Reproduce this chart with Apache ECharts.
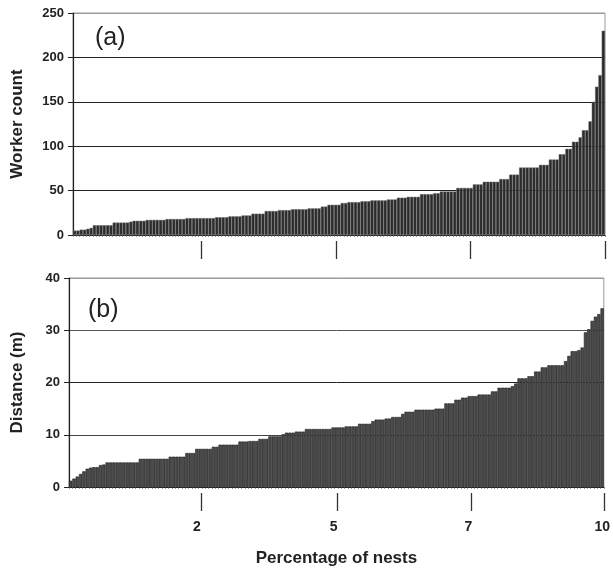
<!DOCTYPE html>
<html><head><meta charset="utf-8">
<script src="https://cdn.jsdelivr.net/npm/echarts@6/dist/echarts.min.js"></script>
<style>html,body{margin:0;padding:0;background:#fff}#c{width:613px;height:571px}</style>
</head><body><div id="c"></div>
<script>
// Panel (a): worker count per nest, sorted
var workerCount = [
 5,5,6,6,7,8,
 11,11,11,11,11,11,
 14,14,14,14,14,
 15,16,16,16,16,
 17,17,17,17,17,17,
 18,18,18,18,18,18,
 19,19,19,19,19,19,19,19,19,
 20,20,20,20,
 21,21,21,21,
 22,22,22,
 24,24,24,24,
 27,27,27,27,
 28,28,28,28,
 29,29,29,29,29,
 30,30,30,30,
 32,32,
 34,34,34,34,
 36,36,
 37,37,37,37,
 38,38,38,
 39,39,39,39,39,
 40,40,40,
 42,42,42,
 43,43,43,43,
 46,46,46,46,
 47,47,
 49,49,49,49,49,
 53,53,53,53,53,
 57,57,57,
 60,60,60,60,60,
 63,63,63,
 68,68,68,
 76,76,76,76,76,76,
 79,79,79,
 85,85,85,
 91,91,
 97,97,
 105,105,
 110,
 118,118,
 128,150,167,180,230
];
// Panel (b): distance (m) per nest, sorted
var distance = [
 1.2,1.6,2.0,2.5,3.0,
 3.5,3.7,3.8,3.8,
 4.2,4.3,
 4.7,4.7,4.7,4.7,4.7,4.7,4.7,4.7,4.7,4.7,
 5.4,5.4,5.4,5.4,5.4,5.4,5.4,5.4,5.4,
 5.8,5.8,5.8,5.8,5.8,
 6.5,6.5,6.5,
 7.3,7.3,7.3,7.3,7.3,
 7.7,7.7,
 8.1,8.1,8.1,8.1,8.1,8.1,
 8.7,8.7,8.7,8.8,8.8,8.8,
 9.2,9.2,9.2,
 9.7,9.7,9.7,9.7,
 10.1,
 10.4,10.4,10.4,
 10.6,10.6,10.6,
 11.1,11.1,11.1,11.1,11.1,11.1,11.1,11.1,
 11.4,11.4,11.4,11.4,
 11.6,11.6,11.6,11.6,
 12.1,12.1,12.1,12.1,
 12.6,
 12.9,12.9,12.9,
 13.1,13.1,
 13.4,13.4,13.4,
 14.0,
 14.4,14.4,14.4,
 14.8,14.8,14.8,14.8,14.8,14.8,
 15.0,15.0,15.0,
 16.0,16.0,16.0,
 16.7,16.7,17.1,17.1,
 17.4,17.4,17.4,
 17.7,17.7,17.7,17.7,
 18.3,18.3,
 19.0,19.0,19.0,19.0,
 19.3,19.8,
 20.8,20.8,20.8,
 21.2,21.2,
 22.1,22.1,
 22.9,22.9,
 23.3,23.3,23.3,23.3,23.3,
 24.1,25.1,
 26.0,26.0,26.2,26.7,
 29.6,30.2,31.8,32.6,33.1,34.2
];
var nestIdsA = workerCount.map(function(_, i){ return i + 1; });
var nestIdsB = distance.map(function(_, i){ return i + 1; });
var pctTickPosA = [24.2, 49.4, 74.6, 100];
var pctTickPosB = [24.8, 50.2, 75.3, 100];
var pctLabelPos = [23.9, 49.5, 74.7, 99.7];
var pctLabelText = ['2', '5', '7', '10'];

var FONT = "'Liberation Sans',Arial,sans-serif";
var chart = echarts.init(document.getElementById('c'), null, {renderer: 'canvas'});

function yAxis(grid, max, interval, name, gap, colors) {
  return {
    type: 'value', gridIndex: grid, min: 0, max: max, interval: interval,
    name: name, nameLocation: 'middle', nameGap: gap, nameRotate: 90,
    nameTextStyle: {fontFamily: FONT, fontWeight: 'bold', fontSize: 17, color: '#222'},
    axisLine: {show: true, lineStyle: {color: '#222', width: 1.2}},
    axisTick: {show: true, length: 5, lineStyle: {color: '#222'}},
    axisLabel: {margin: 9, fontFamily: FONT, fontWeight: 'bold', fontSize: 13, color: '#222'},
    splitLine: {show: true, lineStyle: {color: colors, width: 1}}
  };
}
function catAxis(grid, ids) {
  return {
    type: 'category', gridIndex: grid, data: ids, position: 'bottom',
    axisLine: {show: true, lineStyle: {color: '#222', width: 1}},
    axisTick: {show: true, interval: 0, length: 2, lineStyle: {color: '#555', width: 0.6}},
    axisLabel: {show: false}, splitLine: {show: false}
  };
}

chart.setOption({
  animation: false,
  backgroundColor: '#fff',
  grid: [
    {left: 73, right: 8, top: 13, height: 222, show: true, borderColor: '#9a9a9a', borderWidth: 1, backgroundColor: 'transparent'},
    {left: 69, right: 8.5, top: 278, height: 209, show: true, borderColor: '#9a9a9a', borderWidth: 1, backgroundColor: 'transparent'}
  ],
  xAxis: [
    catAxis(0, nestIdsA),
    catAxis(1, nestIdsB),
    {
      type: 'value', gridIndex: 0, min: 0, max: 100, position: 'bottom', offset: 6,
      axisLine: {show: false},
      axisTick: {show: true, length: 18, customValues: pctTickPosA, lineStyle: {color: '#333', width: 1.3}},
      axisLabel: {show: false}, splitLine: {show: false}
    },
    {
      type: 'value', gridIndex: 1, min: 0, max: 100, position: 'bottom', offset: 6,
      name: 'Percentage of nests', nameLocation: 'middle', nameGap: 57,
      nameTextStyle: {fontFamily: FONT, fontWeight: 'bold', fontSize: 17, color: '#222'},
      axisLine: {show: false},
      axisTick: {show: true, length: 18, customValues: pctTickPosB, lineStyle: {color: '#333', width: 1.3}},
      axisLabel: {
        show: true, margin: 27, customValues: pctLabelPos,
        fontFamily: FONT, fontWeight: 'bold', fontSize: 14, color: '#222',
        formatter: function (v) {
          for (var k = 0; k < pctLabelPos.length; k++) { if (Math.abs(pctLabelPos[k] - v) < 0.01) return pctLabelText[k]; }
          return '';
        }
      },
      splitLine: {show: false}
    }
  ],
  yAxis: [
    yAxis(0, 250, 50, 'Worker count', 47, ['#222', '#222', '#222', '#222', '#222', '#9a9a9a']),
    yAxis(1, 40, 10, 'Distance (m)', 43, ['#222', '#444', '#222', '#555', '#9a9a9a'])
  ],
  graphic: [
    {type: 'text', left: 95, top: 26, style: {text: '(a)', fontFamily: FONT, fontSize: 25, fill: '#222'}},
    {type: 'text', left: 88, top: 298, style: {text: '(b)', fontFamily: FONT, fontSize: 25, fill: '#222'}}
  ],
  series: [
    {
      type: 'bar', xAxisIndex: 0, yAxisIndex: 0, data: workerCount,
      barCategoryGap: '0%',
      itemStyle: {color: '#2b2b2b', borderColor: '#6a6a6a', borderWidth: 0.5}
    },
    {
      type: 'bar', xAxisIndex: 1, yAxisIndex: 1, data: distance,
      barCategoryGap: '0%',
      itemStyle: {color: '#4a4a4a', borderColor: '#1e1e1e', borderWidth: 0.6}
    }
  ]
});
</script>
</body></html>
